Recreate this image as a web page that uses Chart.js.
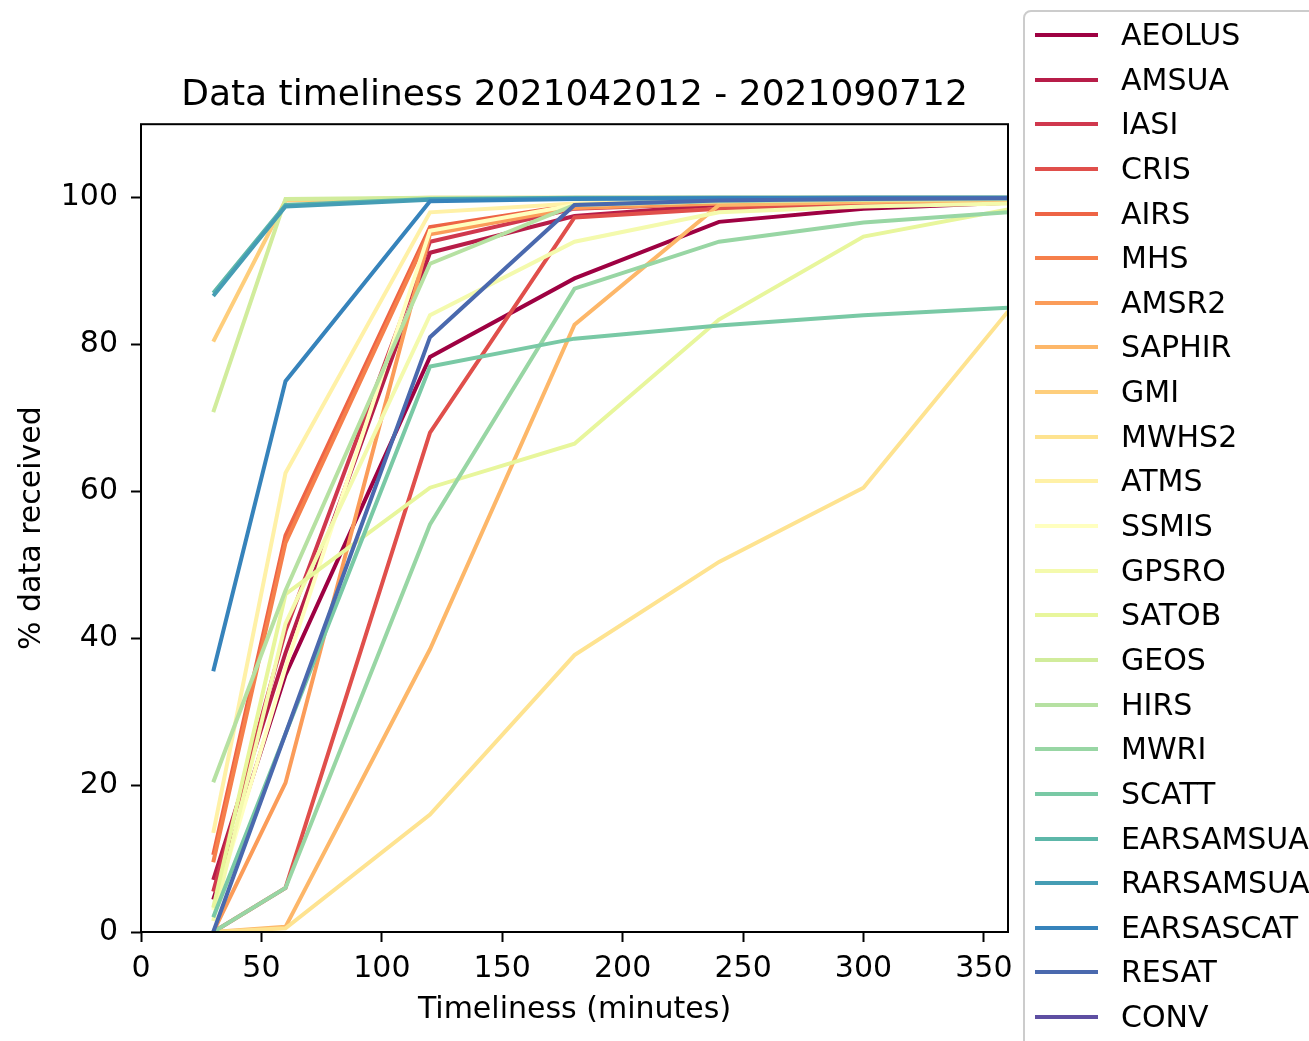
<!DOCTYPE html>
<html>
<head>
<meta charset="utf-8">
<title>Data timeliness</title>
<script src="https://cdn.jsdelivr.net/npm/chart.js@4/dist/chart.umd.min.js"></script>
<style>
  html, body { margin: 0; padding: 0; background: #fff; overflow: hidden; }
  #wrap { position: relative; width: 1309px; height: 1041px; }
  #chartBox { position: absolute; left: 0; top: 0; width: 1309px; height: 1041px; }
  #legend {
    position: absolute; left: 1023px; top: 10px; width: 420px; height: 1100px;
    border: 2px solid #cccccc; border-radius: 8px; background: #fff;
    font-family: 'DejaVu Sans', sans-serif; font-size: 30px; color: #000;
  }
  .row { position: absolute; left: 0; width: 400px; height: 44px; line-height: 44px; white-space: nowrap; }
  .swatch { position: absolute; left: 10px; top: 20px; width: 63px; height: 4px; }
  .label { position: absolute; left: 96px; top: 0; }
</style>
</head>
<body>
<div id="wrap">
  <div id="chartBox"><canvas id="c"></canvas></div>
  <div id="legend"></div>
</div>
<script>
// Timeliness cut-offs (minutes after analysis time)
const timelinessMinutes = [30, 60, 120, 180, 240, 300, 360];

// Percentage of data received by each cut-off, per observation type
const AEOLUS    = [4.4, 35, 78.3, 89, 96.7, 98.5, 99.3];
const AMSUA     = [7.1, 38, 92.5, 97.5, 99, 99.5, 99.7];
const IASI      = [5.5, 41, 94, 98.5, 99.2, 99.5, 99.7];
const CRIS      = [0, 6, 68, 97.3, 98.5, 99, 99.4];
const AIRS      = [10.5, 54, 96, 99, 99.4, 99.6, 99.8];
const MHS       = [9.5, 53, 95.5, 98.8, 99.3, 99.5, 99.7];
const AMSR2     = [0, 20.3, 95, 98.6, 99.2, 99.5, 99.7];
const SAPHIR    = [0, 0.7, 38.5, 82.7, 99, 99.4, 99.6];
const GMI       = [80.4, 99.6, 100, 100, 100, 100, 100];
const MWHS2     = [0, 0.5, 16, 37.7, 50.4, 60.5, 84.5];
const ATMS      = [13.5, 62.5, 98, 99.2, 99.6, 99.8, 99.9];
const SSMIS     = [3, 36, 95.5, 99, 99.5, 99.7, 99.8];
const GPSRO     = [1.5, 42, 84, 94, 98, 98.8, 99.2];
const SATOB     = [3.3, 46, 60.5, 66.5, 83.4, 94.7, 98.4];
const GEOS      = [70.8, 99.8, 100, 100, 100, 100, 100];
const HIRS      = [20.4, 46.5, 91, 99, 99.5, 99.7, 99.8];
const MWRI      = [0, 6, 55.5, 87.6, 94, 96.6, 98];
const SCATT     = [2, 27, 77, 80.8, 82.6, 84, 85];
const EARSAMSUA = [87, 99, 99.8, 100, 100, 100, 100];
const RARSAMSUA = [86.6, 98.8, 99.7, 99.9, 100, 100, 100];
const EARSASCAT = [35.5, 75, 99.5, 99.8, 99.9, 100, 100];
const RESAT     = [0, 27, 81, 99, 99.6, 99.8, 99.9];
const CONV      = [null, null, null, null, null, null, null];

const seriesNames = ['AEOLUS', 'AMSUA', 'IASI', 'CRIS', 'AIRS', 'MHS', 'AMSR2', 'SAPHIR', 'GMI',
  'MWHS2', 'ATMS', 'SSMIS', 'GPSRO', 'SATOB', 'GEOS', 'HIRS', 'MWRI', 'SCATT',
  'EARSAMSUA', 'RARSAMSUA', 'EARSASCAT', 'RESAT', 'CONV'];
const seriesValues = [AEOLUS, AMSUA, IASI, CRIS, AIRS, MHS, AMSR2, SAPHIR, GMI,
  MWHS2, ATMS, SSMIS, GPSRO, SATOB, GEOS, HIRS, MWRI, SCATT,
  EARSAMSUA, RARSAMSUA, EARSASCAT, RESAT, CONV];

const xTicks = [0, 50, 100, 150, 200, 250, 300, 350];
const yTicks = [0, 20, 40, 60, 80, 100];

// "Spectral" diverging colour ramp, sampled evenly across the series
const spectral = [
  [158, 1, 66], [213, 62, 79], [244, 109, 67], [253, 174, 97], [254, 224, 139],
  [255, 255, 191], [230, 245, 152], [171, 221, 164], [102, 194, 165], [50, 136, 189], [94, 79, 162]
];
function spectralColor(t) {
  const p = t * (spectral.length - 1);
  const i = Math.min(Math.floor(p), spectral.length - 2);
  const f = p - i;
  const c = spectral[i].map((v, k) => Math.round(v + (spectral[i + 1][k] - v) * f));
  return `rgb(${c[0]},${c[1]},${c[2]})`;
}
const n = seriesNames.length;
const colors = seriesNames.map((_, i) => spectralColor(i / (n - 1)));

const FONT = 'DejaVu Sans';
Chart.defaults.font.family = FONT;
Chart.defaults.color = '#000';

// Closed black frame round the plot area
const frame = {
  id: 'frame',
  afterDatasetsDraw(chart) {
    const { ctx, chartArea: a } = chart;
    ctx.save();
    ctx.strokeStyle = '#000';
    ctx.lineWidth = 2;
    ctx.strokeRect(a.left, a.top, a.right - a.left, a.bottom - a.top);
    ctx.restore();
  }
};

const tickGrid = { display: true, drawOnChartArea: false, drawTicks: true, tickLength: 10, tickWidth: 2, tickColor: '#000', color: '#000' };

new Chart(document.getElementById('c'), {
  type: 'line',
  data: {
    datasets: seriesNames.map((name, i) => ({
      label: name,
      data: timelinessMinutes.map((m, j) => ({ x: m, y: seriesValues[i][j] })),
      borderColor: colors[i],
      backgroundColor: colors[i],
      borderWidth: 4,
      pointRadius: 0,
      tension: 0,
      fill: false,
      order: n - i
    }))
  },
  options: {
    responsive: true,
    maintainAspectRatio: false,
    animation: false,
    layout: { padding: { left: 0, right: 301, top: 0, bottom: 0 } },
    plugins: {
      legend: { display: false },
      tooltip: { enabled: false },
      title: {
        display: true,
        text: 'Data timeliness 2021042012 - 2021090712',
        fullSize: false,
        color: '#000',
        font: { family: FONT, size: 36, weight: 'normal' },
        padding: { top: 74, bottom: 7 }
      }
    },
    scales: {
      x: {
        type: 'linear', min: 0, max: 360,
        afterBuildTicks: s => { s.ticks = xTicks.map(v => ({ value: v })); },
        afterFit: s => { s.height = 109; },
        ticks: { font: { size: 30 }, color: '#000', padding: 9, maxRotation: 0 },
        grid: tickGrid,
        border: { display: false },
        title: { display: true, text: 'Timeliness (minutes)', color: '#000', font: { size: 30 }, padding: { top: 0, bottom: 13 } }
      },
      y: {
        type: 'linear', min: 0, max: 110,
        afterBuildTicks: s => { s.ticks = yTicks.map(v => ({ value: v })); },
        afterFit: s => { s.width = 141; },
        ticks: { font: { size: 30 }, color: '#000', padding: 13 },
        grid: tickGrid,
        border: { display: false },
        title: { display: true, text: '% data received', color: '#000', font: { size: 30 }, padding: { top: 14, bottom: 0 } }
      }
    }
  },
  plugins: [frame]
});

// Legend panel
const legend = document.getElementById('legend');
seriesNames.forEach((name, i) => {
  const row = document.createElement('div');
  row.className = 'row';
  row.style.top = (1 + 44.64 * i) + 'px';
  const sw = document.createElement('div');
  sw.className = 'swatch';
  sw.style.background = colors[i];
  const lb = document.createElement('span');
  lb.className = 'label';
  lb.textContent = name;
  row.appendChild(sw);
  row.appendChild(lb);
  legend.appendChild(row);
});
</script>
</body>
</html>
